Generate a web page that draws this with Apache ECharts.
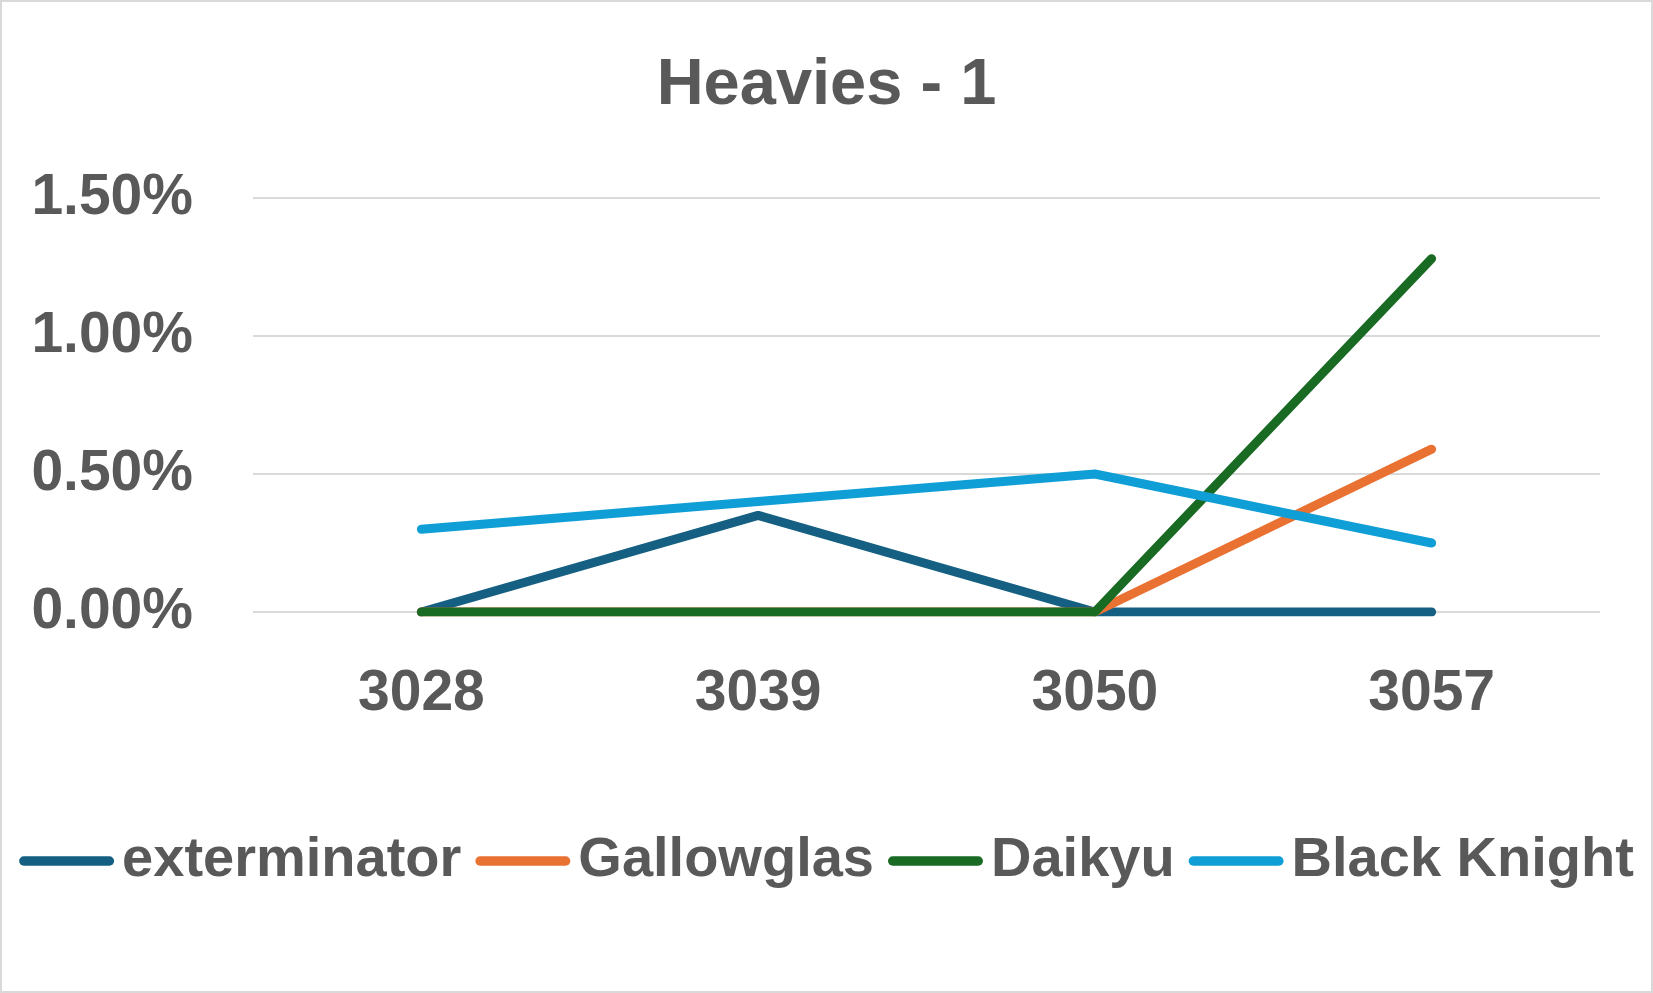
<!DOCTYPE html>
<html>
<head>
<meta charset="utf-8">
<script src="https://cdn.jsdelivr.net/npm/echarts@6/dist/echarts.min.js"></script>
<style>
html,body{margin:0;padding:0;background:#fff;}
#c{width:1653px;height:993px;box-sizing:border-box;border:2px solid #d9d9d9;}
</style>
</head>
<body>
<div id="c"></div>
<script>
const categories = ['3028', '3039', '3050', '3057'];
const exterminator = [0, 0.35, 0, 0];
const gallowglas = [0, 0, 0, 0.59];
const daikyu = [0, 0, 0, 1.28];
const blackKnight = [0.30, 0.40, 0.50, 0.25];
const seriesNames = ['exterminator', 'Gallowglas', 'Daikyu', 'Black Knight'];
const colors = ['#156082', '#E97132', '#196B24', '#0F9ED5'];
const seriesData = [exterminator, gallowglas, daikyu, blackKnight];

const FONT = '"Liberation Sans", Arial, sans-serif';
const TXT = '#595959';
const chart = echarts.init(document.getElementById('c'), null, {renderer: 'canvas'});
chart.setOption({
  animation: false,
  backgroundColor: '#fff',
  title: {
    text: 'Heavies - 1',
    left: 'center',
    top: 47,
    textStyle: {fontFamily: FONT, fontSize: 65, fontWeight: 'bold', color: TXT}
  },
  legend: {
    bottom: 97,
    left: 'center',
    itemWidth: 95,
    itemHeight: 10,
    itemGap: 14,
    icon: 'path://M5,0 L95,0 A5,5 0 0 1 95,10 L5,10 A5,5 0 0 1 5,0 Z',
    textStyle: {fontFamily: FONT, fontSize: 56, fontWeight: 'bold', color: TXT, padding: [0, 0, 0, 3]},
    data: seriesNames
  },
  grid: {left: 251, right: 51, top: 196, bottom: 379, containLabel: false},
  xAxis: {
    type: 'category',
    data: categories,
    boundaryGap: true,
    axisLine: {show: false},
    axisTick: {show: false},
    axisLabel: {fontFamily: FONT, fontSize: 57, fontWeight: 'bold', color: TXT, margin: 54}
  },
  yAxis: {
    type: 'value',
    min: 0,
    max: 1.5,
    interval: 0.5,
    axisLine: {show: false},
    axisTick: {show: false},
    splitLine: {lineStyle: {color: '#d9d9d9', width: 2}},
    axisLabel: {fontFamily: FONT, fontSize: 57, fontWeight: 'bold', color: TXT, margin: 60,
      formatter: v => v.toFixed(2) + '%'}
  },
  series: seriesData.map((d, i) => ({
    name: seriesNames[i],
    type: 'line',
    data: d,
    symbol: 'none',
    color: colors[i],
    lineStyle: {width: 9, color: colors[i], cap: 'round', join: 'round'}
  }))
});
</script>
</body>
</html>
